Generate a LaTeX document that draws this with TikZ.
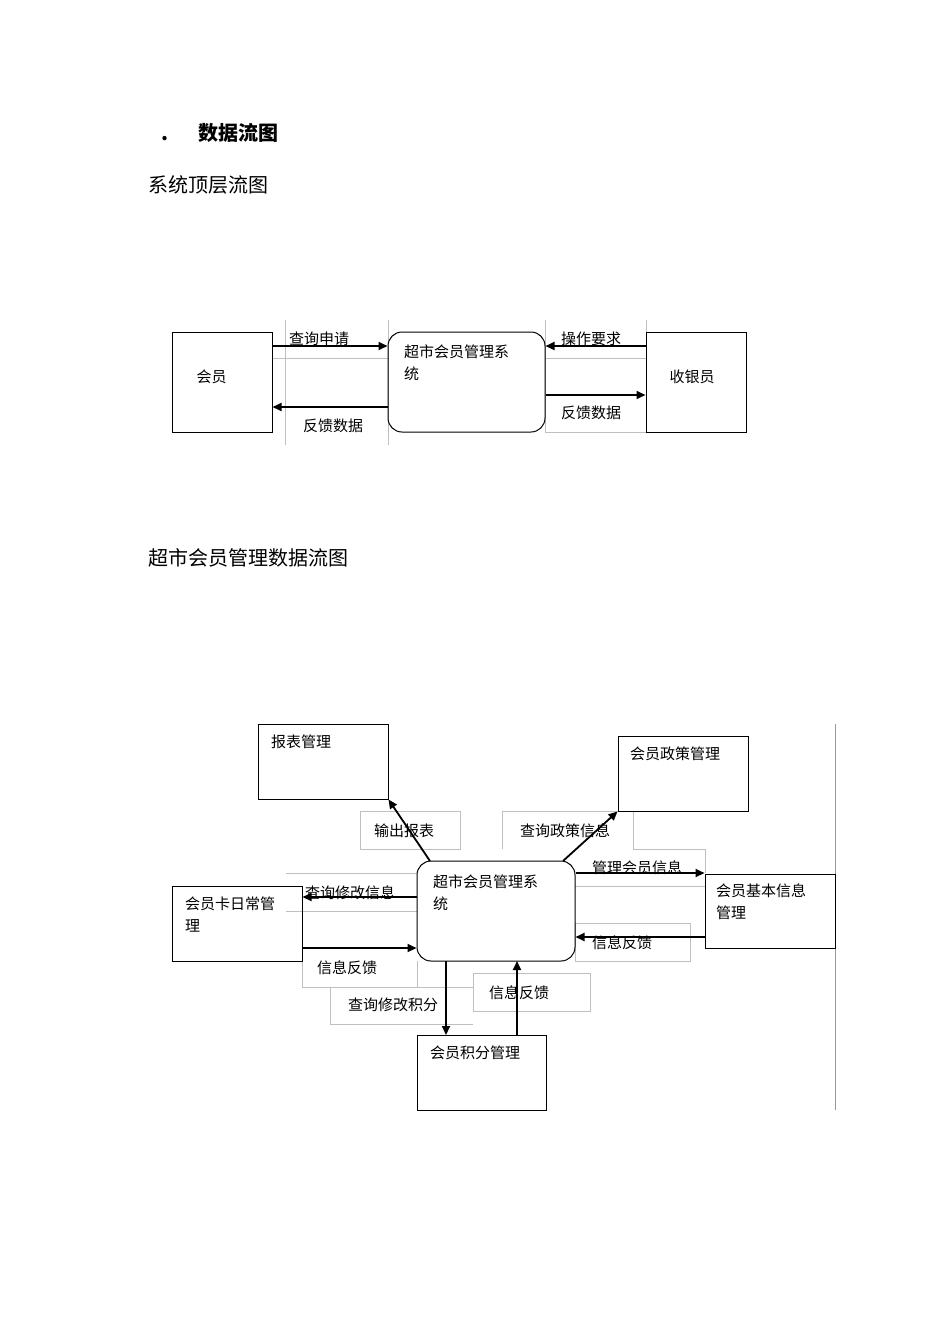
\documentclass[tikz,border=0pt]{standalone}
\usepackage{fontspec}
\setmainfont{Noto Sans CJK SC}
\usetikzlibrary{arrows.meta}
\begin{document}
\begin{tikzpicture}[x=1pt,y=-1pt,
  ent/.style={draw,line width=1pt,inner sep=0pt},
  proc/.style={draw,line width=1pt,rounded corners=14pt,inner sep=0pt},
  flow/.style={line width=1.8pt,-{Triangle[length=9pt,width=8pt]}},
  lab/.style={font=\fontsize{15}{18}\selectfont},
  frame/.style={draw=black!25,line width=0.6pt},
  txt/.style={font=\fontsize{15}{22}\selectfont,align=left,anchor=north west,inner sep=0pt}]
\useasboundingbox (0,0) rectangle (950,1344);
\fill[white] (0,0) rectangle (950,1344);
\node[anchor=west,font=\fontsize{20}{24}\selectfont\bfseries] (t0) at (158,133) {.\hspace{30pt}数据流图};
\node[anchor=west,font=\fontsize{20}{24}\selectfont] (t1) at (145,185) {系统顶层流图};
\node[anchor=west,font=\fontsize{20}{24}\selectfont] (t2) at (145,558) {超市会员管理数据流图};
% top frames
\draw[frame] (285,320) -- (285,445) (388,320) -- (388,445) (272,358) -- (388,358);
\draw[frame] (545,320) -- (545,432) (646,320) -- (646,432) (545,358) -- (646,358) (545,432) -- (646,432);
% top diagram
\node[ent,minimum width=100pt,minimum height=100pt] (hy) at (222,382) {};
\node[lab,anchor=west] at (193,377) {会员};
\node[proc,minimum width=157pt,minimum height=100pt] (sys) at (466.5,382) {};
\node[txt] at (404,345) {超市会员管理系\\统};
\node[ent,minimum width=100pt,minimum height=100pt] (sy) at (696,382) {};
\node[lab] at (692,377) {收银员};
\draw[flow] (hy.east|-0,346) -- (sys.west|-0,346);
\draw[flow] (sys.west|-0,407) -- (hy.east|-0,407);
\draw[flow] (sy.west|-0,346) -- (sys.east|-0,346);
\draw[flow] (sys.east|-0,395) -- (sy.west|-0,395);
\node[lab] at (319,339) {查询申请};
\node[lab] at (333,426) {反馈数据};
\node[lab] at (591,339) {操作要求};
\node[lab] at (591,413) {反馈数据};
% bottom frames
\draw[frame] (360,811) rectangle (460,849);
\draw[frame] (502,849) -- (502,811) -- (633,811) -- (633,849) -- (705,849) -- (705,873);
\draw[frame] (575,923) rectangle (690,961);
\draw[frame] (473,973) rectangle (590,1011);
\draw[frame] (330,987) -- (330,1024) -- (473,1024);
\draw[frame] (302,961) -- (302,987) -- (417,987);
\draw[frame] (286,873) -- (417,873) (286,911) -- (417,911) (575,886) -- (705,886);
\draw[frame] (417,961) -- (417,987) -- (473,987);
\draw[black!40,line width=0.8pt] (835,724) -- (835,1110);
% bottom diagram
\node[ent,minimum width=130pt,minimum height=75pt] (bb) at (323,761.5) {};
\node[txt] at (271,735) {报表管理};
\node[ent,minimum width=130pt,minimum height=75pt] (zc) at (683,773.5) {};
\node[txt] at (630,747) {会员政策管理};
\node[ent,minimum width=130pt,minimum height=75pt] (rc) at (237,923.5) {};
\node[txt] at (185,897) {会员卡日常管\\理};
\node[proc,minimum width=158pt,minimum height=100pt] (cs) at (496,911) {};
\node[txt] at (433,875) {超市会员管理系\\统};
\node[ent,minimum width=130pt,minimum height=74pt] (jb) at (770,911) {};
\node[txt] at (716,884) {会员基本信息\\管理};
\node[ent,minimum width=129pt,minimum height=75pt] (jf) at (481.5,1072.5) {};
\node[txt] at (430,1046) {会员积分管理};
\draw[flow] (430,861) -- (bb.south east);
\draw[flow] (563,861) -- (zc.south west);
\draw[flow] (cs.west|-0,897) -- (rc.east|-0,897);
\draw[flow] (rc.east|-0,948) -- (cs.west|-0,948);
\draw[flow] (cs.east|-0,873) -- (jb.west|-0,873);
\draw[flow] (jb.west|-0,937) -- (cs.east|-0,937);
\draw[flow] (446,961) -- (446,1035);
\draw[flow] (517,1035) -- (517,961);
\node[lab] at (404,831) {输出报表};
\node[lab] at (565,831) {查询政策信息};
\node[lab] at (637,868) {管理会员信息};
\node[lab] at (350,893) {查询修改信息};
\node[lab] at (622,943) {信息反馈};
\node[lab] at (347,968) {信息反馈};
\node[lab] at (393,1005) {查询修改积分};
\node[lab] at (519,993) {信息反馈};
\end{tikzpicture}
\end{document}
